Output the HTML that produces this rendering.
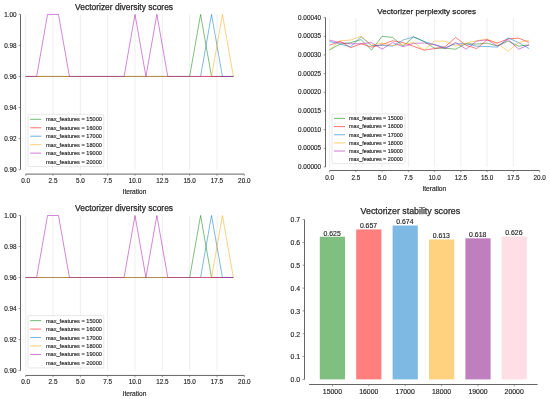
<!DOCTYPE html>
<html><head><meta charset="utf-8"><title>Vectorizer scores</title>
<style>html,body{margin:0;padding:0;background:#fff}svg{display:block;will-change:transform;opacity:0.999}text{stroke:#262626;stroke-width:0.15px}text.t{stroke-width:0.25px}</style></head>
<body>
<svg width="550" height="399" viewBox="0 0 550 399" font-family="'Liberation Sans', sans-serif" fill="#262626">
<rect width="550" height="399" fill="#fff"/>
<line x1="25.70" y1="14.40" x2="25.70" y2="169.60" stroke="#eeeeee" stroke-width="1"/>
<line x1="53.02" y1="14.40" x2="53.02" y2="169.60" stroke="#eeeeee" stroke-width="1"/>
<line x1="80.35" y1="14.40" x2="80.35" y2="169.60" stroke="#eeeeee" stroke-width="1"/>
<line x1="107.67" y1="14.40" x2="107.67" y2="169.60" stroke="#eeeeee" stroke-width="1"/>
<line x1="135.00" y1="14.40" x2="135.00" y2="169.60" stroke="#eeeeee" stroke-width="1"/>
<line x1="162.32" y1="14.40" x2="162.32" y2="169.60" stroke="#eeeeee" stroke-width="1"/>
<line x1="189.65" y1="14.40" x2="189.65" y2="169.60" stroke="#eeeeee" stroke-width="1"/>
<line x1="216.97" y1="14.40" x2="216.97" y2="169.60" stroke="#eeeeee" stroke-width="1"/>
<polyline points="25.70,76.48 36.63,76.48 47.56,76.48 58.49,76.48 69.42,76.48 80.35,76.48 91.28,76.48 102.21,76.48 113.14,76.48 124.07,76.48 135.00,76.48 145.93,76.48 156.86,76.48 167.79,76.48 178.72,76.48 189.65,76.48 200.58,14.40 211.51,76.48 222.44,76.48 233.37,76.48" fill="none" stroke="#008000" stroke-opacity="0.5" stroke-width="1.0" stroke-linejoin="round"/>
<polyline points="25.70,76.48 36.63,76.48 47.56,76.48 58.49,76.48 69.42,76.48 80.35,76.48 91.28,76.48 102.21,76.48 113.14,76.48 124.07,76.48 135.00,76.48 145.93,76.48 156.86,76.48 167.79,76.48 178.72,76.48 189.65,76.48 200.58,76.48 211.51,76.48 222.44,76.48 233.37,76.48" fill="none" stroke="#ff0000" stroke-opacity="0.5" stroke-width="1.0" stroke-linejoin="round"/>
<polyline points="25.70,76.48 36.63,76.48 47.56,76.48 58.49,76.48 69.42,76.48 80.35,76.48 91.28,76.48 102.21,76.48 113.14,76.48 124.07,76.48 135.00,76.48 145.93,76.48 156.86,76.48 167.79,76.48 178.72,76.48 189.65,76.48 200.58,76.48 211.51,14.40 222.44,76.48 233.37,76.48" fill="none" stroke="#0073c8" stroke-opacity="0.5" stroke-width="1.0" stroke-linejoin="round"/>
<polyline points="25.70,76.48 36.63,76.48 47.56,76.48 58.49,76.48 69.42,76.48 80.35,76.48 91.28,76.48 102.21,76.48 113.14,76.48 124.07,76.48 135.00,76.48 145.93,76.48 156.86,76.48 167.79,76.48 178.72,76.48 189.65,76.48 200.58,76.48 211.51,76.48 222.44,14.40 233.37,76.48" fill="none" stroke="#ffa500" stroke-opacity="0.5" stroke-width="1.0" stroke-linejoin="round"/>
<polyline points="25.70,76.48 36.63,76.48 47.56,14.40 58.49,14.40 69.42,76.48 80.35,76.48 91.28,76.48 102.21,76.48 113.14,76.48 124.07,76.48 135.00,14.40 145.93,76.48 156.86,14.40 167.79,76.48 178.72,76.48 189.65,76.48 200.58,76.48 211.51,76.48 222.44,76.48 233.37,76.48" fill="none" stroke="#a50faf" stroke-opacity="0.5" stroke-width="1.0" stroke-linejoin="round"/>
<polyline points="25.70,76.48 36.63,76.48 47.56,76.48 58.49,76.48 69.42,76.48 80.35,76.48 91.28,76.48 102.21,76.48 113.14,76.48 124.07,76.48 135.00,76.48 145.93,76.48 156.86,76.48 167.79,76.48 178.72,76.48 189.65,76.48 200.58,76.48 211.51,76.48 222.44,76.48 233.37,76.48" fill="none" stroke="#ffc0cb" stroke-opacity="0.08" stroke-width="1.0" stroke-linejoin="round"/>
<line x1="20.50" y1="14.40" x2="20.50" y2="169.60" stroke="#555555" stroke-width="0.9"/>
<line x1="25.70" y1="174.10" x2="244.30" y2="174.10" stroke="#555555" stroke-width="0.9"/>
<line x1="18.70" y1="169.60" x2="20.50" y2="169.60" stroke="#555555" stroke-width="0.6"/>
<text x="16.60" y="171.75" font-size="6.35" text-anchor="end">0.90</text>
<line x1="18.70" y1="138.56" x2="20.50" y2="138.56" stroke="#555555" stroke-width="0.6"/>
<text x="16.60" y="140.71" font-size="6.35" text-anchor="end">0.92</text>
<line x1="18.70" y1="107.52" x2="20.50" y2="107.52" stroke="#555555" stroke-width="0.6"/>
<text x="16.60" y="109.67" font-size="6.35" text-anchor="end">0.94</text>
<line x1="18.70" y1="76.48" x2="20.50" y2="76.48" stroke="#555555" stroke-width="0.6"/>
<text x="16.60" y="78.63" font-size="6.35" text-anchor="end">0.96</text>
<line x1="18.70" y1="45.44" x2="20.50" y2="45.44" stroke="#555555" stroke-width="0.6"/>
<text x="16.60" y="47.59" font-size="6.35" text-anchor="end">0.98</text>
<line x1="18.70" y1="14.40" x2="20.50" y2="14.40" stroke="#555555" stroke-width="0.6"/>
<text x="16.60" y="16.55" font-size="6.35" text-anchor="end">1.00</text>
<line x1="25.70" y1="174.10" x2="25.70" y2="175.80" stroke="#555555" stroke-width="0.6"/>
<text x="25.70" y="183.00" font-size="6.35" text-anchor="middle">0.0</text>
<line x1="53.02" y1="174.10" x2="53.02" y2="175.80" stroke="#555555" stroke-width="0.6"/>
<text x="53.02" y="183.00" font-size="6.35" text-anchor="middle">2.5</text>
<line x1="80.35" y1="174.10" x2="80.35" y2="175.80" stroke="#555555" stroke-width="0.6"/>
<text x="80.35" y="183.00" font-size="6.35" text-anchor="middle">5.0</text>
<line x1="107.67" y1="174.10" x2="107.67" y2="175.80" stroke="#555555" stroke-width="0.6"/>
<text x="107.67" y="183.00" font-size="6.35" text-anchor="middle">7.5</text>
<line x1="135.00" y1="174.10" x2="135.00" y2="175.80" stroke="#555555" stroke-width="0.6"/>
<text x="135.00" y="183.00" font-size="6.35" text-anchor="middle">10.0</text>
<line x1="162.32" y1="174.10" x2="162.32" y2="175.80" stroke="#555555" stroke-width="0.6"/>
<text x="162.32" y="183.00" font-size="6.35" text-anchor="middle">12.5</text>
<line x1="189.65" y1="174.10" x2="189.65" y2="175.80" stroke="#555555" stroke-width="0.6"/>
<text x="189.65" y="183.00" font-size="6.35" text-anchor="middle">15.0</text>
<line x1="216.97" y1="174.10" x2="216.97" y2="175.80" stroke="#555555" stroke-width="0.6"/>
<text x="216.97" y="183.00" font-size="6.35" text-anchor="middle">17.5</text>
<line x1="244.30" y1="174.10" x2="244.30" y2="175.80" stroke="#555555" stroke-width="0.6"/>
<text x="244.30" y="183.00" font-size="6.35" text-anchor="middle">20.0</text>
<text x="124.10" y="10.10" font-size="8.45" text-anchor="middle" class="t">Vectorizer diversity scores</text>
<text x="134.50" y="194.30" font-size="6.6" text-anchor="middle">Iteration</text>
<rect x="28.00" y="114.30" width="75.80" height="52.30" rx="1.2" fill="#fff" fill-opacity="0.8" stroke="#d9d9d9" stroke-width="0.6"/>
<line x1="30.20" y1="119.30" x2="41.30" y2="119.30" stroke="#008000" stroke-opacity="0.5" stroke-width="1.1"/>
<text x="45.90" y="121.30" font-size="5.62">max_features = 15000</text>
<line x1="30.20" y1="127.76" x2="41.30" y2="127.76" stroke="#ff0000" stroke-opacity="0.5" stroke-width="1.1"/>
<text x="45.90" y="129.76" font-size="5.62">max_features = 16000</text>
<line x1="30.20" y1="136.22" x2="41.30" y2="136.22" stroke="#0073c8" stroke-opacity="0.5" stroke-width="1.1"/>
<text x="45.90" y="138.22" font-size="5.62">max_features = 17000</text>
<line x1="30.20" y1="144.68" x2="41.30" y2="144.68" stroke="#ffa500" stroke-opacity="0.5" stroke-width="1.1"/>
<text x="45.90" y="146.68" font-size="5.62">max_features = 18000</text>
<line x1="30.20" y1="153.14" x2="41.30" y2="153.14" stroke="#a50faf" stroke-opacity="0.5" stroke-width="1.1"/>
<text x="45.90" y="155.14" font-size="5.62">max_features = 19000</text>
<line x1="30.20" y1="161.60" x2="41.30" y2="161.60" stroke="#ffc0cb" stroke-opacity="0.08" stroke-width="1.1"/>
<text x="45.90" y="163.60" font-size="5.62">max_features = 20000</text>
<line x1="25.70" y1="215.50" x2="25.70" y2="370.50" stroke="#eeeeee" stroke-width="1"/>
<line x1="53.02" y1="215.50" x2="53.02" y2="370.50" stroke="#eeeeee" stroke-width="1"/>
<line x1="80.35" y1="215.50" x2="80.35" y2="370.50" stroke="#eeeeee" stroke-width="1"/>
<line x1="107.67" y1="215.50" x2="107.67" y2="370.50" stroke="#eeeeee" stroke-width="1"/>
<line x1="135.00" y1="215.50" x2="135.00" y2="370.50" stroke="#eeeeee" stroke-width="1"/>
<line x1="162.32" y1="215.50" x2="162.32" y2="370.50" stroke="#eeeeee" stroke-width="1"/>
<line x1="189.65" y1="215.50" x2="189.65" y2="370.50" stroke="#eeeeee" stroke-width="1"/>
<line x1="216.97" y1="215.50" x2="216.97" y2="370.50" stroke="#eeeeee" stroke-width="1"/>
<polyline points="25.70,277.50 36.63,277.50 47.56,277.50 58.49,277.50 69.42,277.50 80.35,277.50 91.28,277.50 102.21,277.50 113.14,277.50 124.07,277.50 135.00,277.50 145.93,277.50 156.86,277.50 167.79,277.50 178.72,277.50 189.65,277.50 200.58,215.50 211.51,277.50 222.44,277.50 233.37,277.50" fill="none" stroke="#008000" stroke-opacity="0.5" stroke-width="1.0" stroke-linejoin="round"/>
<polyline points="25.70,277.50 36.63,277.50 47.56,277.50 58.49,277.50 69.42,277.50 80.35,277.50 91.28,277.50 102.21,277.50 113.14,277.50 124.07,277.50 135.00,277.50 145.93,277.50 156.86,277.50 167.79,277.50 178.72,277.50 189.65,277.50 200.58,277.50 211.51,277.50 222.44,277.50 233.37,277.50" fill="none" stroke="#ff0000" stroke-opacity="0.5" stroke-width="1.0" stroke-linejoin="round"/>
<polyline points="25.70,277.50 36.63,277.50 47.56,277.50 58.49,277.50 69.42,277.50 80.35,277.50 91.28,277.50 102.21,277.50 113.14,277.50 124.07,277.50 135.00,277.50 145.93,277.50 156.86,277.50 167.79,277.50 178.72,277.50 189.65,277.50 200.58,277.50 211.51,215.50 222.44,277.50 233.37,277.50" fill="none" stroke="#0073c8" stroke-opacity="0.5" stroke-width="1.0" stroke-linejoin="round"/>
<polyline points="25.70,277.50 36.63,277.50 47.56,277.50 58.49,277.50 69.42,277.50 80.35,277.50 91.28,277.50 102.21,277.50 113.14,277.50 124.07,277.50 135.00,277.50 145.93,277.50 156.86,277.50 167.79,277.50 178.72,277.50 189.65,277.50 200.58,277.50 211.51,277.50 222.44,215.50 233.37,277.50" fill="none" stroke="#ffa500" stroke-opacity="0.5" stroke-width="1.0" stroke-linejoin="round"/>
<polyline points="25.70,277.50 36.63,277.50 47.56,215.50 58.49,215.50 69.42,277.50 80.35,277.50 91.28,277.50 102.21,277.50 113.14,277.50 124.07,277.50 135.00,215.50 145.93,277.50 156.86,215.50 167.79,277.50 178.72,277.50 189.65,277.50 200.58,277.50 211.51,277.50 222.44,277.50 233.37,277.50" fill="none" stroke="#a50faf" stroke-opacity="0.5" stroke-width="1.0" stroke-linejoin="round"/>
<polyline points="25.70,277.50 36.63,277.50 47.56,277.50 58.49,277.50 69.42,277.50 80.35,277.50 91.28,277.50 102.21,277.50 113.14,277.50 124.07,277.50 135.00,277.50 145.93,277.50 156.86,277.50 167.79,277.50 178.72,277.50 189.65,277.50 200.58,277.50 211.51,277.50 222.44,277.50 233.37,277.50" fill="none" stroke="#ffc0cb" stroke-opacity="0.08" stroke-width="1.0" stroke-linejoin="round"/>
<line x1="20.50" y1="215.50" x2="20.50" y2="370.50" stroke="#555555" stroke-width="0.9"/>
<line x1="25.70" y1="375.45" x2="244.30" y2="375.45" stroke="#555555" stroke-width="0.9"/>
<line x1="18.70" y1="370.50" x2="20.50" y2="370.50" stroke="#555555" stroke-width="0.6"/>
<text x="16.60" y="372.65" font-size="6.35" text-anchor="end">0.90</text>
<line x1="18.70" y1="339.50" x2="20.50" y2="339.50" stroke="#555555" stroke-width="0.6"/>
<text x="16.60" y="341.65" font-size="6.35" text-anchor="end">0.92</text>
<line x1="18.70" y1="308.50" x2="20.50" y2="308.50" stroke="#555555" stroke-width="0.6"/>
<text x="16.60" y="310.65" font-size="6.35" text-anchor="end">0.94</text>
<line x1="18.70" y1="277.50" x2="20.50" y2="277.50" stroke="#555555" stroke-width="0.6"/>
<text x="16.60" y="279.65" font-size="6.35" text-anchor="end">0.96</text>
<line x1="18.70" y1="246.50" x2="20.50" y2="246.50" stroke="#555555" stroke-width="0.6"/>
<text x="16.60" y="248.65" font-size="6.35" text-anchor="end">0.98</text>
<line x1="18.70" y1="215.50" x2="20.50" y2="215.50" stroke="#555555" stroke-width="0.6"/>
<text x="16.60" y="217.65" font-size="6.35" text-anchor="end">1.00</text>
<line x1="25.70" y1="375.45" x2="25.70" y2="377.15" stroke="#555555" stroke-width="0.6"/>
<text x="25.70" y="384.30" font-size="6.35" text-anchor="middle">0.0</text>
<line x1="53.02" y1="375.45" x2="53.02" y2="377.15" stroke="#555555" stroke-width="0.6"/>
<text x="53.02" y="384.30" font-size="6.35" text-anchor="middle">2.5</text>
<line x1="80.35" y1="375.45" x2="80.35" y2="377.15" stroke="#555555" stroke-width="0.6"/>
<text x="80.35" y="384.30" font-size="6.35" text-anchor="middle">5.0</text>
<line x1="107.67" y1="375.45" x2="107.67" y2="377.15" stroke="#555555" stroke-width="0.6"/>
<text x="107.67" y="384.30" font-size="6.35" text-anchor="middle">7.5</text>
<line x1="135.00" y1="375.45" x2="135.00" y2="377.15" stroke="#555555" stroke-width="0.6"/>
<text x="135.00" y="384.30" font-size="6.35" text-anchor="middle">10.0</text>
<line x1="162.32" y1="375.45" x2="162.32" y2="377.15" stroke="#555555" stroke-width="0.6"/>
<text x="162.32" y="384.30" font-size="6.35" text-anchor="middle">12.5</text>
<line x1="189.65" y1="375.45" x2="189.65" y2="377.15" stroke="#555555" stroke-width="0.6"/>
<text x="189.65" y="384.30" font-size="6.35" text-anchor="middle">15.0</text>
<line x1="216.97" y1="375.45" x2="216.97" y2="377.15" stroke="#555555" stroke-width="0.6"/>
<text x="216.97" y="384.30" font-size="6.35" text-anchor="middle">17.5</text>
<line x1="244.30" y1="375.45" x2="244.30" y2="377.15" stroke="#555555" stroke-width="0.6"/>
<text x="244.30" y="384.30" font-size="6.35" text-anchor="middle">20.0</text>
<text x="124.10" y="211.40" font-size="8.45" text-anchor="middle" class="t">Vectorizer diversity scores</text>
<text x="134.50" y="395.60" font-size="6.6" text-anchor="middle">Iteration</text>
<rect x="28.00" y="315.60" width="75.80" height="52.30" rx="1.2" fill="#fff" fill-opacity="0.8" stroke="#d9d9d9" stroke-width="0.6"/>
<line x1="30.20" y1="320.60" x2="41.30" y2="320.60" stroke="#008000" stroke-opacity="0.5" stroke-width="1.1"/>
<text x="45.90" y="322.60" font-size="5.62">max_features = 15000</text>
<line x1="30.20" y1="329.06" x2="41.30" y2="329.06" stroke="#ff0000" stroke-opacity="0.5" stroke-width="1.1"/>
<text x="45.90" y="331.06" font-size="5.62">max_features = 16000</text>
<line x1="30.20" y1="337.52" x2="41.30" y2="337.52" stroke="#0073c8" stroke-opacity="0.5" stroke-width="1.1"/>
<text x="45.90" y="339.52" font-size="5.62">max_features = 17000</text>
<line x1="30.20" y1="345.98" x2="41.30" y2="345.98" stroke="#ffa500" stroke-opacity="0.5" stroke-width="1.1"/>
<text x="45.90" y="347.98" font-size="5.62">max_features = 18000</text>
<line x1="30.20" y1="354.44" x2="41.30" y2="354.44" stroke="#a50faf" stroke-opacity="0.5" stroke-width="1.1"/>
<text x="45.90" y="356.44" font-size="5.62">max_features = 19000</text>
<line x1="30.20" y1="362.90" x2="41.30" y2="362.90" stroke="#ffc0cb" stroke-opacity="0.08" stroke-width="1.1"/>
<text x="45.90" y="364.90" font-size="5.62">max_features = 20000</text>
<line x1="329.60" y1="17.60" x2="329.60" y2="167.00" stroke="#eeeeee" stroke-width="1"/>
<line x1="355.85" y1="17.60" x2="355.85" y2="167.00" stroke="#eeeeee" stroke-width="1"/>
<line x1="382.10" y1="17.60" x2="382.10" y2="167.00" stroke="#eeeeee" stroke-width="1"/>
<line x1="408.35" y1="17.60" x2="408.35" y2="167.00" stroke="#eeeeee" stroke-width="1"/>
<line x1="434.60" y1="17.60" x2="434.60" y2="167.00" stroke="#eeeeee" stroke-width="1"/>
<line x1="460.85" y1="17.60" x2="460.85" y2="167.00" stroke="#eeeeee" stroke-width="1"/>
<line x1="487.10" y1="17.60" x2="487.10" y2="167.00" stroke="#eeeeee" stroke-width="1"/>
<line x1="513.35" y1="17.60" x2="513.35" y2="167.00" stroke="#eeeeee" stroke-width="1"/>
<polyline points="329.60,49.91 340.10,44.12 350.60,42.62 361.10,39.64 371.60,50.09 382.10,36.28 392.60,37.40 403.10,46.17 413.60,36.84 424.10,41.50 434.60,48.23 445.10,48.23 455.60,49.16 466.10,43.75 476.60,44.12 487.10,43.18 497.60,45.99 508.10,41.13 518.60,46.17 529.10,44.87" fill="none" stroke="#008000" stroke-opacity="0.5" stroke-width="1.0" stroke-linejoin="round"/>
<polyline points="329.60,45.24 340.10,41.13 350.60,47.67 361.10,43.75 371.60,47.11 382.10,44.68 392.60,40.76 403.10,42.62 413.60,46.36 424.10,50.09 434.60,48.60 445.10,46.73 455.60,37.40 466.10,45.24 476.60,48.60 487.10,39.82 497.60,43.00 508.10,38.89 518.60,38.14 529.10,42.44" fill="none" stroke="#ff0000" stroke-opacity="0.5" stroke-width="1.0" stroke-linejoin="round"/>
<polyline points="329.60,41.50 340.10,44.12 350.60,46.73 361.10,36.84 371.60,45.61 382.10,45.24 392.60,46.17 403.10,40.01 413.60,36.84 424.10,41.50 434.60,44.68 445.10,47.67 455.60,43.75 466.10,43.75 476.60,46.17 487.10,46.55 497.60,47.11 508.10,37.77 518.60,42.62 529.10,48.60" fill="none" stroke="#0073c8" stroke-opacity="0.5" stroke-width="1.0" stroke-linejoin="round"/>
<polyline points="329.60,49.50 340.10,40.76 350.60,40.01 361.10,36.28 371.60,45.24 382.10,43.18 392.60,45.61 403.10,44.12 413.60,42.62 424.10,50.09 434.60,41.13 445.10,41.13 455.60,46.17 466.10,43.18 476.60,40.76 487.10,38.89 497.60,43.75 508.10,51.22 518.60,42.62 529.10,40.20" fill="none" stroke="#ffa500" stroke-opacity="0.5" stroke-width="1.0" stroke-linejoin="round"/>
<polyline points="329.60,40.16 340.10,42.62 350.60,43.75 361.10,43.75 371.60,42.62 382.10,49.16 392.60,42.62 403.10,46.73 413.60,43.37 424.10,43.00 434.60,44.68 445.10,48.60 455.60,42.44 466.10,49.16 476.60,41.13 487.10,39.82 497.60,45.99 508.10,39.64 518.60,49.16 529.10,44.87" fill="none" stroke="#a50faf" stroke-opacity="0.5" stroke-width="1.0" stroke-linejoin="round"/>
<polyline points="329.60,43.75 340.10,43.75 350.60,43.75 361.10,43.75 371.60,43.75 382.10,43.75 392.60,43.75 403.10,43.75 413.60,43.75 424.10,43.75 434.60,43.75 445.10,43.75 455.60,43.75 466.10,43.75 476.60,43.75 487.10,43.75 497.60,43.75 508.10,43.75 518.60,43.75 529.10,43.75" fill="none" stroke="#ffc0cb" stroke-opacity="0.08" stroke-width="1.0" stroke-linejoin="round"/>
<line x1="325.50" y1="17.60" x2="325.50" y2="167.00" stroke="#555555" stroke-width="0.9"/>
<line x1="329.60" y1="170.50" x2="539.60" y2="170.50" stroke="#555555" stroke-width="0.9"/>
<line x1="323.70" y1="167.00" x2="325.50" y2="167.00" stroke="#555555" stroke-width="0.6"/>
<text x="321.00" y="169.15" font-size="6.35" text-anchor="end">0.00000</text>
<line x1="323.70" y1="148.32" x2="325.50" y2="148.32" stroke="#555555" stroke-width="0.6"/>
<text x="321.00" y="150.47" font-size="6.35" text-anchor="end">0.00005</text>
<line x1="323.70" y1="129.65" x2="325.50" y2="129.65" stroke="#555555" stroke-width="0.6"/>
<text x="321.00" y="131.80" font-size="6.35" text-anchor="end">0.00010</text>
<line x1="323.70" y1="110.97" x2="325.50" y2="110.97" stroke="#555555" stroke-width="0.6"/>
<text x="321.00" y="113.12" font-size="6.35" text-anchor="end">0.00015</text>
<line x1="323.70" y1="92.30" x2="325.50" y2="92.30" stroke="#555555" stroke-width="0.6"/>
<text x="321.00" y="94.45" font-size="6.35" text-anchor="end">0.00020</text>
<line x1="323.70" y1="73.62" x2="325.50" y2="73.62" stroke="#555555" stroke-width="0.6"/>
<text x="321.00" y="75.78" font-size="6.35" text-anchor="end">0.00025</text>
<line x1="323.70" y1="54.95" x2="325.50" y2="54.95" stroke="#555555" stroke-width="0.6"/>
<text x="321.00" y="57.10" font-size="6.35" text-anchor="end">0.00030</text>
<line x1="323.70" y1="36.28" x2="325.50" y2="36.28" stroke="#555555" stroke-width="0.6"/>
<text x="321.00" y="38.43" font-size="6.35" text-anchor="end">0.00035</text>
<line x1="323.70" y1="17.60" x2="325.50" y2="17.60" stroke="#555555" stroke-width="0.6"/>
<text x="321.00" y="19.75" font-size="6.35" text-anchor="end">0.00040</text>
<line x1="329.60" y1="170.50" x2="329.60" y2="172.20" stroke="#555555" stroke-width="0.6"/>
<text x="329.60" y="179.50" font-size="6.35" text-anchor="middle">0.0</text>
<line x1="355.85" y1="170.50" x2="355.85" y2="172.20" stroke="#555555" stroke-width="0.6"/>
<text x="355.85" y="179.50" font-size="6.35" text-anchor="middle">2.5</text>
<line x1="382.10" y1="170.50" x2="382.10" y2="172.20" stroke="#555555" stroke-width="0.6"/>
<text x="382.10" y="179.50" font-size="6.35" text-anchor="middle">5.0</text>
<line x1="408.35" y1="170.50" x2="408.35" y2="172.20" stroke="#555555" stroke-width="0.6"/>
<text x="408.35" y="179.50" font-size="6.35" text-anchor="middle">7.5</text>
<line x1="434.60" y1="170.50" x2="434.60" y2="172.20" stroke="#555555" stroke-width="0.6"/>
<text x="434.60" y="179.50" font-size="6.35" text-anchor="middle">10.0</text>
<line x1="460.85" y1="170.50" x2="460.85" y2="172.20" stroke="#555555" stroke-width="0.6"/>
<text x="460.85" y="179.50" font-size="6.35" text-anchor="middle">12.5</text>
<line x1="487.10" y1="170.50" x2="487.10" y2="172.20" stroke="#555555" stroke-width="0.6"/>
<text x="487.10" y="179.50" font-size="6.35" text-anchor="middle">15.0</text>
<line x1="513.35" y1="170.50" x2="513.35" y2="172.20" stroke="#555555" stroke-width="0.6"/>
<text x="513.35" y="179.50" font-size="6.35" text-anchor="middle">17.5</text>
<line x1="539.60" y1="170.50" x2="539.60" y2="172.20" stroke="#555555" stroke-width="0.6"/>
<text x="539.60" y="179.50" font-size="6.35" text-anchor="middle">20.0</text>
<text x="426.75" y="13.50" font-size="8.09" text-anchor="middle" class="t">Vectorizer perplexity scores</text>
<text x="434.30" y="190.90" font-size="6.6" text-anchor="middle">Iteration</text>
<rect x="332.00" y="114.00" width="73.00" height="49.60" rx="1.2" fill="#fff" fill-opacity="0.8" stroke="#d9d9d9" stroke-width="0.6"/>
<line x1="334.00" y1="118.40" x2="345.00" y2="118.40" stroke="#008000" stroke-opacity="0.5" stroke-width="1.1"/>
<text x="349.00" y="120.31" font-size="5.38">max_features = 15000</text>
<line x1="334.00" y1="126.56" x2="345.00" y2="126.56" stroke="#ff0000" stroke-opacity="0.5" stroke-width="1.1"/>
<text x="349.00" y="128.47" font-size="5.38">max_features = 16000</text>
<line x1="334.00" y1="134.72" x2="345.00" y2="134.72" stroke="#0073c8" stroke-opacity="0.5" stroke-width="1.1"/>
<text x="349.00" y="136.63" font-size="5.38">max_features = 17000</text>
<line x1="334.00" y1="142.88" x2="345.00" y2="142.88" stroke="#ffa500" stroke-opacity="0.5" stroke-width="1.1"/>
<text x="349.00" y="144.79" font-size="5.38">max_features = 18000</text>
<line x1="334.00" y1="151.04" x2="345.00" y2="151.04" stroke="#a50faf" stroke-opacity="0.5" stroke-width="1.1"/>
<text x="349.00" y="152.95" font-size="5.38">max_features = 19000</text>
<line x1="334.00" y1="159.20" x2="345.00" y2="159.20" stroke="#ffc0cb" stroke-opacity="0.08" stroke-width="1.1"/>
<text x="349.00" y="161.11" font-size="5.38">max_features = 20000</text>
<rect x="319.80" y="236.72" width="25.20" height="142.68" fill="#7fbf7f"/>
<text x="332.10" y="235.62" font-size="6.90" text-anchor="middle">0.625</text>
<line x1="332.40" y1="384.50" x2="332.40" y2="386.40" stroke="#555555" stroke-width="0.6"/>
<text x="332.40" y="393.5" font-size="6.90" text-anchor="middle">15000</text>
<rect x="356.20" y="229.42" width="25.20" height="149.98" fill="#ff7f7f"/>
<text x="368.50" y="228.32" font-size="6.90" text-anchor="middle">0.657</text>
<line x1="368.80" y1="384.50" x2="368.80" y2="386.40" stroke="#555555" stroke-width="0.6"/>
<text x="368.80" y="393.5" font-size="6.90" text-anchor="middle">16000</text>
<rect x="392.60" y="225.54" width="25.20" height="153.86" fill="#7db9e3"/>
<text x="404.90" y="224.44" font-size="6.90" text-anchor="middle">0.674</text>
<line x1="405.20" y1="384.50" x2="405.20" y2="386.40" stroke="#555555" stroke-width="0.6"/>
<text x="405.20" y="393.5" font-size="6.90" text-anchor="middle">17000</text>
<rect x="429.00" y="239.46" width="25.20" height="139.94" fill="#ffd27f"/>
<text x="441.30" y="238.36" font-size="6.90" text-anchor="middle">0.613</text>
<line x1="441.60" y1="384.50" x2="441.60" y2="386.40" stroke="#555555" stroke-width="0.6"/>
<text x="441.60" y="393.5" font-size="6.90" text-anchor="middle">18000</text>
<rect x="465.40" y="238.32" width="25.20" height="141.08" fill="#bf7fbf"/>
<text x="477.70" y="237.22" font-size="6.90" text-anchor="middle">0.618</text>
<line x1="478.00" y1="384.50" x2="478.00" y2="386.40" stroke="#555555" stroke-width="0.6"/>
<text x="478.00" y="393.5" font-size="6.90" text-anchor="middle">19000</text>
<rect x="501.60" y="236.49" width="25.20" height="142.91" fill="#ffdfe5"/>
<text x="513.90" y="235.39" font-size="6.90" text-anchor="middle">0.626</text>
<line x1="514.20" y1="384.50" x2="514.20" y2="386.40" stroke="#555555" stroke-width="0.6"/>
<text x="514.20" y="393.5" font-size="6.90" text-anchor="middle">20000</text>
<line x1="304.50" y1="219.60" x2="304.50" y2="379.40" stroke="#555555" stroke-width="0.9"/>
<line x1="309.1" y1="384.50" x2="537.6" y2="384.50" stroke="#555555" stroke-width="0.9"/>
<line x1="302.50" y1="379.40" x2="304.50" y2="379.40" stroke="#555555" stroke-width="0.6"/>
<text x="300.2" y="382.25" font-size="6.90" text-anchor="end">0.0</text>
<line x1="302.50" y1="356.57" x2="304.50" y2="356.57" stroke="#555555" stroke-width="0.6"/>
<text x="300.2" y="359.42" font-size="6.90" text-anchor="end">0.1</text>
<line x1="302.50" y1="333.74" x2="304.50" y2="333.74" stroke="#555555" stroke-width="0.6"/>
<text x="300.2" y="336.59" font-size="6.90" text-anchor="end">0.2</text>
<line x1="302.50" y1="310.91" x2="304.50" y2="310.91" stroke="#555555" stroke-width="0.6"/>
<text x="300.2" y="313.76" font-size="6.90" text-anchor="end">0.3</text>
<line x1="302.50" y1="288.09" x2="304.50" y2="288.09" stroke="#555555" stroke-width="0.6"/>
<text x="300.2" y="290.94" font-size="6.90" text-anchor="end">0.4</text>
<line x1="302.50" y1="265.26" x2="304.50" y2="265.26" stroke="#555555" stroke-width="0.6"/>
<text x="300.2" y="268.11" font-size="6.90" text-anchor="end">0.5</text>
<line x1="302.50" y1="242.43" x2="304.50" y2="242.43" stroke="#555555" stroke-width="0.6"/>
<text x="300.2" y="245.28" font-size="6.90" text-anchor="end">0.6</text>
<line x1="302.50" y1="219.60" x2="304.50" y2="219.60" stroke="#555555" stroke-width="0.6"/>
<text x="300.2" y="222.45" font-size="6.90" text-anchor="end">0.7</text>
<text x="410.4" y="213.9" font-size="8.83" text-anchor="middle" class="t">Vectorizer stability scores</text>
</svg>
</body></html>
